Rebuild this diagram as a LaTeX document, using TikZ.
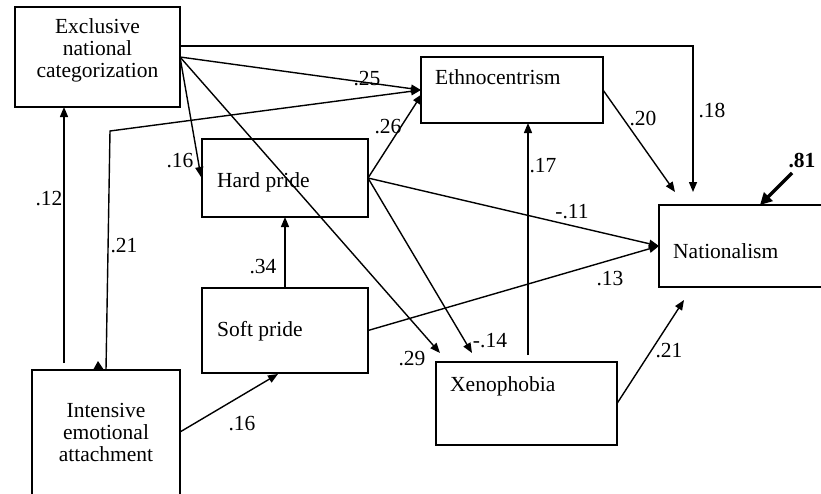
\documentclass[tikz,border=0pt]{standalone}
\usepackage{fontspec}
\setmainfont{Liberation Serif}
\usetikzlibrary{arrows.meta,calc}
\begin{document}
\begin{tikzpicture}[x=1pt,y=-1pt,
  box/.style={draw,line width=1.2pt,inner sep=0pt,outer sep=0pt},
  txt/.style={font=\fontsize{21.5}{22}\selectfont,inner sep=0pt},
  lbl/.style={font=\fontsize{21.5}{22}\selectfont,inner sep=0pt,anchor=base},
  conn/.style={line width=1.4pt,-{Triangle[length=10pt,width=8pt]}},
  thickconn/.style={line width=3.5pt,-{Triangle[length=12pt,width=12pt]}},
]
\clip (0,0) rectangle (821,493);
\fill[white] (0,0) rectangle (821,493);

% boxes
\node[box,minimum width=165pt,minimum height=100pt] (exc) at (97.5,57) {};
\node[box,minimum width=166pt,minimum height=78pt] (hard) at (285,178) {};
\node[box,minimum width=182pt,minimum height=66pt] (ethno) at (512,90) {};
\node[box,minimum width=181pt,minimum height=82pt] (nat) at (749.5,246) {};
\node[box,minimum width=166pt,minimum height=85pt] (soft) at (285,330.5) {};
\node[box,minimum width=181pt,minimum height=83pt] (xeno) at (526.5,403.5) {};
\node[box,minimum width=148pt,minimum height=150pt] (int) at (106,445) {};

% box texts
\node[txt,align=center] (exct) at (97.5,50) {Exclusive\\national\\categorization};
\node[txt,align=center] (intt) at (106,432) {Intensive\\emotional\\attachment};
\node[txt,anchor=base west] (hardt) at (217,187) {Hard pride};
\node[txt,anchor=base west] (ethnot) at (435,84) {Ethnocentrism};
\node[txt,anchor=base west] (softt) at (217,336) {Soft pride};
\node[txt,anchor=base west] (xenot) at (450,391) {Xenophobia};
\node[txt,anchor=base west] (natt) at (673,258) {Nationalism};

% helper coordinates
\coordinate (bend) at (110,131);
\coordinate (eta) at ($(ethno.west)+(1,4)$);
\coordinate (hpin) at ($(hard.west)+(-1,-1)$);
\coordinate (x29) at ($(xeno.north west)+(4,-9)$);
\coordinate (x14) at ($(xeno.north west)+(36,-9)$);
\coordinate (e18) at ($(exc.east)+(0,-11)$);
\coordinate (n18) at ($(nat.north west)+(34,-13)$);
\coordinate (n20) at ($(nat.north west)+(16,-13)$);
\coordinate (r81) at (792,173);
\coordinate (n81) at ($(nat.north west)+(101,0)$);
\coordinate (n21) at ($(nat.south west)+(25,13)$);
\coordinate (x17) at (528,355);
\coordinate (e17) at (528,123);
\coordinate (i16) at ($(int.east)+(0,-13)$);
\coordinate (s16) at ($(soft.south)+(-7,1)$);
\coordinate (i12) at ($(int.north west)+(32,-7)$);
\coordinate (e12) at ($(exc.south west)+(49,0)$);
\coordinate (i21) at ($(int.north)+(0,0)$);

% connectors
\draw[conn] (exc.east) -- (ethno.west);
\draw[conn] (i21) -- (bend) -- (ethno.west);
\fill (93,370) -- (104,370) -- (98,361) -- cycle;
\draw[conn] (hard.east) -- (eta);
\draw[conn] (exc.east) -- (hpin);
\draw[conn] (exc.east) -- (x29);
\draw[conn] (hard.east) -- (x14);
\draw[conn] (e18) -| (n18);
\draw[conn] (ethno.east) -- (n20);
\draw[thickconn] (r81) -- (n81);
\draw[conn] (hard.east) -- (nat.west);
\draw[conn] (soft.east) -- (nat.west);
\draw[conn] (xeno.east) -- (n21);
\draw[conn] (x17) -- (e17);
\draw[conn] (soft.north) -- (hard.south);
\draw[conn] (i16) -- (s16);
\draw[conn] (i12) -- (e12);

% labels
\node[lbl] (l25) at (367,85) {.25};
\node[lbl] (l18) at (712,117) {.18};
\node[lbl] (l16a) at (180,167) {.16};
\node[lbl] (l12) at (49,205) {.12};
\node[lbl] (l21a) at (124,252) {.21};
\node[lbl] (l26) at (388,133) {.26};
\node[lbl] (l20) at (643,125) {.20};
\node[lbl] (l17) at (543,172) {.17};
\node[lbl] (l11) at (572,218) {-.11};
\node[lbl,font=\fontsize{21.5}{22}\selectfont\bfseries] (l81) at (802,167) {.81};
\node[lbl] (l34) at (263,273) {.34};
\node[lbl] (l13) at (610,285) {.13};
\node[lbl] (l16b) at (242,430) {.16};
\node[lbl] (l29) at (412,365) {.29};
\node[lbl] (l14) at (490,347) {-.14};
\node[lbl] (l21b) at (669,357) {.21};
\end{tikzpicture}
\end{document}
